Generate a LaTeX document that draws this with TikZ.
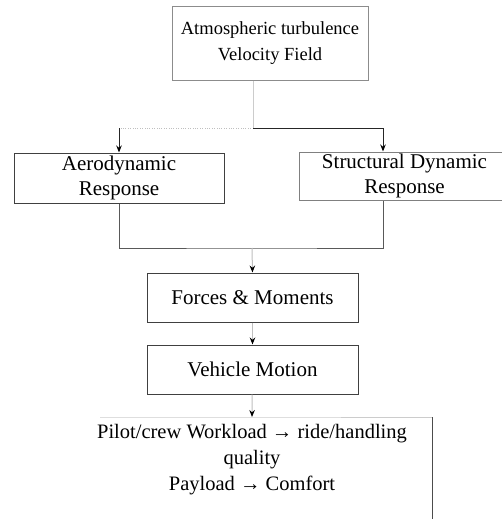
\documentclass[tikz,border=0pt]{standalone}
\usepackage{fontspec}
\setmainfont{Liberation Serif}
\usetikzlibrary{arrows.meta, positioning, calc}

\begin{document}
\begin{tikzpicture}[
    x=1pt, y=-1pt,
    every node/.style={font=\fontsize{21}{25}\selectfont},
    blk/.style={draw=black!75, line width=1pt, minimum width=211pt, minimum height=49pt, align=center, inner sep=0pt},
    link/.style={line width=1pt, black!85},
    arr/.style={link, -{Stealth[length=7pt, width=5.5pt, black]}},
  ]
  \useasboundingbox (0,0) rectangle (502,519);

  % Boxes
  \node[blk, draw=black!45, minimum width=196pt, minimum height=73pt, font=\fontsize{18.5}{26}\selectfont] (gust) at (270,43.5) {Atmospheric turbulence\\Velocity Field};
  \node[blk, minimum width=210pt, minimum height=50pt] (aero) at (119,178) {Aerodynamic\\Response};
  \node[blk, draw=black!50, minimum height=48pt] (struct) at (404.5,176) {Structural Dynamic\\Response};
  \node[blk] (forces) at (252.5,297.5) {Forces \& Moments};
  \node[blk] (motion) at (252.5,369.5) {Vehicle Motion};
  \node[anchor=north, align=center, inner xsep=3pt, inner ysep=7pt, font=\fontsize{20.5}{26}\selectfont] (out) at (252,417) {Pilot/crew Workload → ride/handling\\quality\\Payload → Comfort};

  % Output box edges
  \draw[black!20] (100,417) -- (out.north) -- (432,417);
  \draw[link, black!70] (432,417) -- (432,525);

  % Branch points
  \coordinate (split) at (253,128);
  \coordinate (sdrop) at (383,128);
  \coordinate (join) at (252,248);

  % Connectors
  \draw[black!20, line width=0.6pt] (gust.south -| split) -- (split);
  \draw[black!25, dotted] (split) -- (split -| aero.north);
  \draw[arr] (split -| aero.north) -- (aero.north);
  \draw[link] (split) -- (sdrop);
  \draw[arr] (sdrop) -- (sdrop |- struct.north);
  \draw[link, black!65] (aero.south) |- (join) -| (sdrop |- struct.south);
  \draw[arr, black!25] (join) -- (forces.north);
  \draw[arr, black!25] (forces) -- (motion);
  \draw[arr, black!25] (motion) -- (out.north);
\end{tikzpicture}
\end{document}
